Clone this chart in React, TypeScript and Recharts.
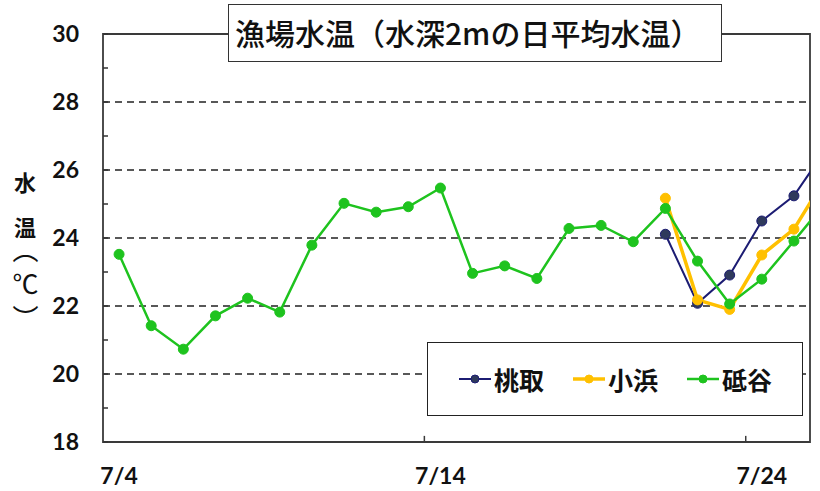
import React from "react"
import {
  LineChart,
  Line,
  XAxis,
  YAxis,
  CartesianGrid,
  ReferenceArea,
  ReferenceLine,
  Legend
} from "recharts"

// days of July shown (the last one runs past the plot edge and gets clipped)
const days = [4, 5, 6, 7, 8, 9, 10, 11, 12, 13, 14, 15, 16, 17, 18, 19, 20, 21, 22, 23, 24, 25, 26]

// 砥谷 covers the whole period
const togayaTemps = [
  23.52, 21.42, 20.73, 21.71, 22.23, 21.82, 23.79, 25.02, 24.76, 24.92, 25.47, 22.96,
  23.18, 22.81, 24.28, 24.37, 23.89, 24.87, 23.32, 22.06, 22.79, 23.91, 25.06
]

// 桃取 and 小浜 start on 7/21
const lateStartDay = 21
const momotoriTemps = [24.11, 22.08, 22.91, 24.5, 25.24, 26.62]
const obamaTemps = [25.17, 22.18, 21.9, 23.5, 24.26, 25.8]

const xLabelDays = [4, 14, 24]
const xMajorBoundaries = [13.5, 23.5]
const yTicks = [18, 19, 20, 21, 22, 23, 24, 25, 26, 27, 28, 29, 30]
const yGridValues = [20, 22, 24, 26, 28]

const seriesInfo = [
  { key: "桃取", stroke: "#1c1c73", width: 2, dotFill: "#2f3a5c" },
  { key: "小浜", stroke: "#ffc000", width: 3.5, dotFill: "#ffc000" },
  { key: "砥谷", stroke: "#1ec31e", width: 2.5, dotFill: "#1ec31e" }
]

const chartData = days.map((day, i) => {
  const late = day - lateStartDay
  return {
    day,
    桃取: late >= 0 ? momotoriTemps[late] : null,
    小浜: late >= 0 ? obamaTemps[late] : null,
    砥谷: togayaTemps[i]
  }
})

const numFont = "Lato, 'Noto Sans', sans-serif"
const cjkFont = "'Noto Sans CJK JP', sans-serif"

function DateTick({ x, y, payload }: any) {
  return (
    <text
      x={x}
      y={y + 42}
      textAnchor="middle"
      fontFamily={numFont}
      fontWeight={700}
      fontSize={23}
      fill="#111"
    >
      {`7/${payload.value}`}
    </text>
  )
}

function TempTick({ x, y, payload }: any) {
  const v = payload.value
  return (
    <g>
      <line x1={x} x2={x + 5} y1={y} y2={y} stroke="#333" strokeWidth={1.5} />
      {v % 2 === 0 && (
        <text
          x={x - 24}
          y={y + 8}
          textAnchor="end"
          fontFamily={numFont}
          fontWeight={700}
          fontSize={23}
          fill="#111"
        >
          {v}
        </text>
      )}
    </g>
  )
}

function renderLegend() {
  return (
    <div
      style={{
        boxSizing: "border-box",
        width: 376,
        height: 74,
        border: "1.5px solid #222",
        background: "#fff",
        display: "flex",
        alignItems: "center",
        justifyContent: "center",
        gap: 28
      }}
    >
      {seriesInfo.map(s => (
        <div key={s.key} style={{ display: "flex", alignItems: "center", gap: 2 }}>
          <svg width={34} height={12}>
            <line x1={1} x2={33} y1={6} y2={6} stroke={s.stroke} strokeWidth={s.width} />
            <circle cx={17} cy={6} r={4} fill={s.dotFill} stroke={s.stroke} strokeWidth={1} />
          </svg>
          <span
            style={{
              fontFamily: cjkFont,
              fontWeight: 700,
              fontSize: 25,
              color: "#111",
              lineHeight: "28px"
            }}
          >
            {s.key}
          </span>
        </div>
      ))}
    </div>
  )
}

// vertical axis title: two glyphs, then the unit set in vertical writing
const axisTitleChars = ["水", "温"]
const axisTitleY = [181, 226]
const axisUnit = "（℃）"

export default function App() {
  return (
    <div style={{ position: "absolute", left: 0, top: 0, width: 820, height: 491, background: "#fff" }}>
      <LineChart
        width={820}
        height={491}
        data={chartData}
        margin={{ top: 34, right: 10, bottom: 0, left: 0 }}
      >
        <CartesianGrid
          vertical={false}
          horizontalValues={yGridValues}
          stroke="#222"
          strokeWidth={1.3}
          strokeDasharray="7 5"
        />
        <XAxis
          type="number"
          dataKey="day"
          domain={[3.5, 25.5]}
          allowDataOverflow
          ticks={xLabelDays}
          tick={<DateTick />}
          tickLine={false}
          axisLine={false}
          tickSize={0}
          tickMargin={0}
          height={49}
          interval={0}
        />
        <YAxis
          type="number"
          domain={[18, 30]}
          ticks={yTicks}
          tick={<TempTick />}
          tickLine={false}
          axisLine={false}
          tickSize={0}
          tickMargin={0}
          width={103}
          interval={0}
        />
        <ReferenceArea
          x1={3.5}
          x2={25.5}
          y1={18}
          y2={30}
          fill="none"
          stroke="#3a3a3a"
          strokeWidth={1.8}
          ifOverflow="visible"
        />
        {xMajorBoundaries.map(b => (
          <ReferenceLine
            key={b}
            segment={[
              { x: b, y: 18 },
              { x: b, y: 18.18 }
            ]}
            stroke="#3a3a3a"
            strokeWidth={1.5}
          />
        ))}
        {seriesInfo.map(s => (
          <Line
            key={s.key}
            dataKey={s.key}
            stroke={s.stroke}
            strokeWidth={s.width}
            dot={{ r: 5, fill: s.dotFill, stroke: s.stroke, strokeWidth: 1, fillOpacity: 1 }}
            activeDot={false}
            isAnimationActive={false}
          />
        ))}
        <Legend
          layout="horizontal"
          verticalAlign="middle"
          align="center"
          content={renderLegend}
          wrapperStyle={{ position: "absolute", left: 427, top: 342, width: 376, height: 74 }}
        />
      </LineChart>
      <svg
        width={60}
        height={491}
        style={{ position: "absolute", left: 0, top: 0, pointerEvents: "none" }}
      >
        {axisTitleChars.map((c, i) => (
          <text
            key={c}
            x={25}
            y={axisTitleY[i]}
            textAnchor="middle"
            dominantBaseline="central"
            fontFamily={cjkFont}
            fontWeight={700}
            fontSize={22}
            fill="#111"
          >
            {c}
          </text>
        ))}
      </svg>
      <div
        style={{
          position: "absolute",
          left: 12,
          top: 237,
          width: 26,
          writingMode: "vertical-rl",
          fontFamily: cjkFont,
          fontSize: 26,
          lineHeight: "26px",
          letterSpacing: 8,
          color: "#111",
          whiteSpace: "nowrap"
        }}
      >
        {axisUnit}
      </div>
      <div
        style={{
          position: "absolute",
          left: 228,
          top: 4,
          width: 494,
          height: 58,
          boxSizing: "border-box",
          border: "1.5px solid #333",
          background: "#fff",
          fontFamily: cjkFont,
          fontWeight: 500,
          fontSize: 30,
          color: "#111",
          lineHeight: "55px",
          paddingLeft: 6,
          whiteSpace: "nowrap"
        }}
      >
        漁場水温（水深2mの日平均水温）
      </div>
    </div>
  )
}
